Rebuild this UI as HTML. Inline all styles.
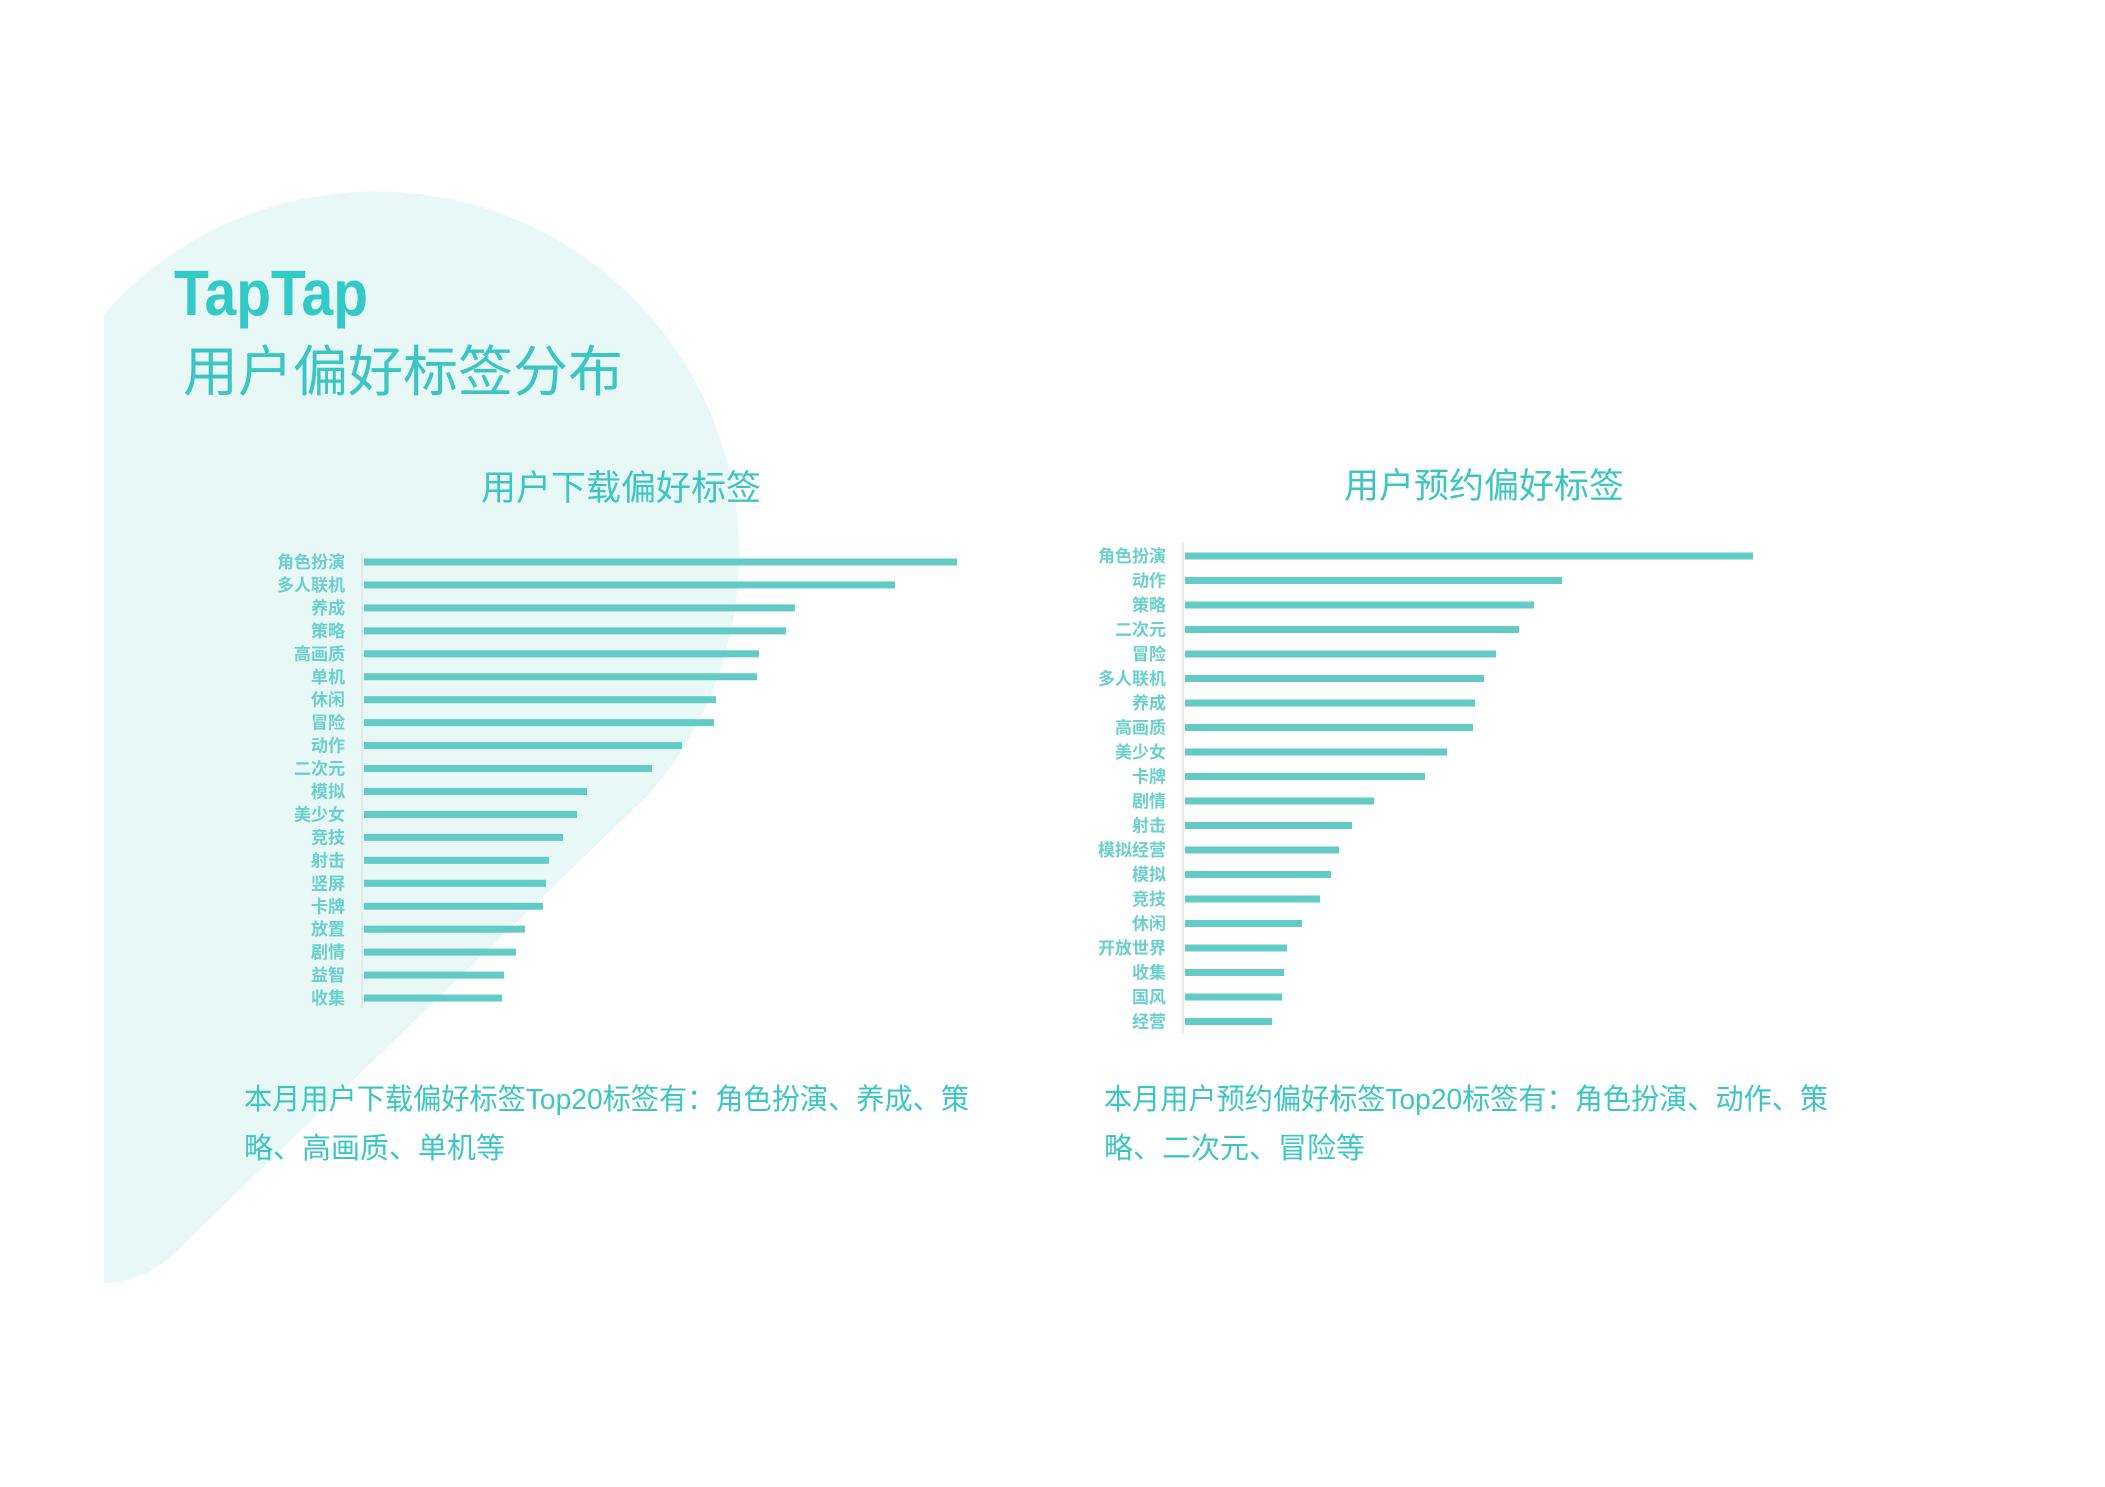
<!DOCTYPE html>
<html><head><meta charset="utf-8">
<style>
html,body{margin:0;padding:0;background:#fff;}
svg{display:block;font-family:"Liberation Sans","Noto Sans CJK SC",sans-serif;}
</style></head>
<body>
<svg id="page" width="2105" height="1487" viewBox="0 0 2105 1487">
  <path d="M104,314 A363,363 0 0 1 648,795 L190,1238 Q150,1283 104,1283 Z" fill="#e8f8f6"/>
  <text x="174" y="315" font-size="64" font-weight="bold" fill="#33c9c6" textLength="194" lengthAdjust="spacingAndGlyphs">TapTap</text>
  <text x="183" y="391" font-size="55" fill="#3cc6c3" textLength="440" lengthAdjust="spacingAndGlyphs">用户偏好标签分布</text>
  <text x="621" y="500" font-size="35" fill="#3cc6c3" text-anchor="middle">用户下载偏好标签</text>
  <text x="1484" y="498" font-size="35" fill="#3cc6c3" text-anchor="middle">用户预约偏好标签</text>
  <g id="left-chart"></g>
  <g id="right-chart"></g>
  <text font-size="29" fill="#3cc6c3">
    <tspan x="244" y="1109" textLength="725" lengthAdjust="spacingAndGlyphs">本月用户下载偏好标签Top20标签有：角色扮演、养成、策</tspan>
    <tspan x="244" y="1158">略、高画质、单机等</tspan>
  </text>
  <text font-size="29" fill="#3cc6c3">
    <tspan x="1104" y="1109" textLength="724" lengthAdjust="spacingAndGlyphs">本月用户预约偏好标签Top20标签有：角色扮演、动作、策</tspan>
    <tspan x="1104" y="1158">略、二次元、冒险等</tspan>
  </text>
</svg>
<script>
const leftCategories = ["角色扮演","多人联机","养成","策略","高画质","单机","休闲","冒险","动作","二次元","模拟","美少女","竞技","射击","竖屏","卡牌","放置","剧情","益智","收集"];
const leftValues = [593,531,431,422,395,393,352,350,318,288,223,213,199,185,182,179,161,152,140,138];
const rightCategories = ["角色扮演","动作","策略","二次元","冒险","多人联机","养成","高画质","美少女","卡牌","剧情","射击","模拟经营","模拟","竞技","休闲","开放世界","收集","国风","经营"];
const rightValues = [568,377,349,334,311,299,290,288,262,240,189,167,154,146,135,117,102,99,97,87];

const NS = "http://www.w3.org/2000/svg";
function drawChart(gid, cats, vals, cfg) {
  const g = document.getElementById(gid);
  const maxV = cfg.maxVal;
  const xScale = v => cfg.x0 + (v / maxV) * cfg.maxLen;
  const yScale = i => cfg.y0 + i * cfg.step;
  const axis = document.createElementNS(NS, "line");
  axis.setAttribute("x1", cfg.x0 - 2); axis.setAttribute("x2", cfg.x0 - 2);
  axis.setAttribute("y1", cfg.axisTop); axis.setAttribute("y2", cfg.axisBottom);
  axis.setAttribute("stroke", "#dde6e6"); axis.setAttribute("stroke-width", "1.5");
  
  
  g.appendChild(axis);
  cats.forEach((c, i) => {
    const y = yScale(i);
    const r = document.createElementNS(NS, "rect");
    r.setAttribute("x", cfg.x0);
    r.setAttribute("y", y - 3.5);
    r.setAttribute("width", xScale(vals[i]) - cfg.x0);
    r.setAttribute("height", 7);
    r.setAttribute("fill", "#62cbc6");
    
    
    g.appendChild(r);
    const t = document.createElementNS(NS, "text");
    t.setAttribute("x", cfg.labelX);
    t.setAttribute("y", y + 6);
    t.setAttribute("text-anchor", "end");
    t.setAttribute("font-size", "17");
    t.setAttribute("font-weight", "bold");
    t.setAttribute("fill", "#6bcfcb");
    t.textContent = c;
    
    
    g.appendChild(t);
  });
}
drawChart("left-chart", leftCategories, leftValues, {x0:364, maxVal:593, maxLen:593, y0:562, step:22.95, labelX:345, axisTop:553, axisBottom:1008});
drawChart("right-chart", rightCategories, rightValues, {x0:1185, maxVal:568, maxLen:568, y0:556, step:24.5, labelX:1166, axisTop:543, axisBottom:1033});
</script>
</body></html>
